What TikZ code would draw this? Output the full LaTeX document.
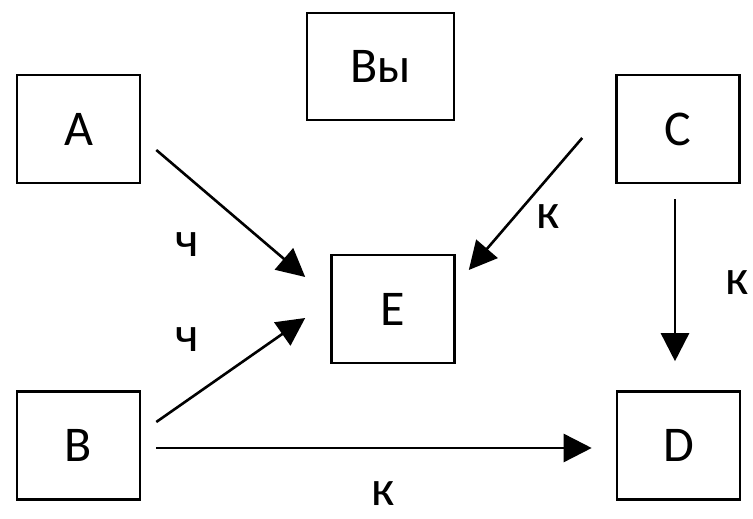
\documentclass[tikz,border=0pt]{standalone}
\usepackage{fontspec}
\setmainfont{Carlito}
\usetikzlibrary{arrows.meta,calc}
\tikzstyle{agent}=[draw,line width=2.6pt,minimum width=123pt,minimum height=108pt,inner sep=0pt,font=\fontsize{50}{60}\selectfont]
\tikzstyle{link}=[line width=2.6pt,-{Triangle[length=28pt,width=28pt]}]
\tikzstyle{tag}=[inner sep=0pt,font=\fontsize{50}{60}\selectfont]

\begin{document}
\begin{tikzpicture}[x=1pt,y=1pt]
	\useasboundingbox (0,0) rectangle (753,519);
	% boxes
	\node[agent] (A) at (78.5,390) {A};
	\node[agent,minimum width=147pt,minimum height=107pt] (you) at (380.5,452.5) {Вы};
	\node[agent] (C) at (678,390) {C};
	\node[agent] (E) at (393,210) {E};
	\node[agent] (B) at (78.5,73.5) {B};
	\node[agent] (D) at (678.5,73.5) {D};
	% arrows
	\draw[link] ($(A.east)+(15,-21)$) -- ($(E.west)+(-25,32)$);
	\draw[link] ($(B.east)+(15,23.5)$) -- ($(E.west)+(-25,-9)$);
	\draw[link] ($(B.east)+(15,-2.5)$) -- ($(D.west)+(-24,-2.5)$);
	\draw[link] ($(C.west)+(-33,-9)$) -- ($(E.east)+(13,39)$);
	\draw[link] ($(C.south)+(-3,-15)$) -- ($(D.north)+(-3.5,29)$);
	% labels
	\node[tag] (ae) at (187,274) {ч};
	\node[tag] (be) at (187,179) {ч};
	\node[tag] (ce) at (548,302) {к};
	\node[tag] (cd) at (737,236) {к};
	\node[tag] (bd) at (383,25) {к};
\end{tikzpicture}
\end{document}
